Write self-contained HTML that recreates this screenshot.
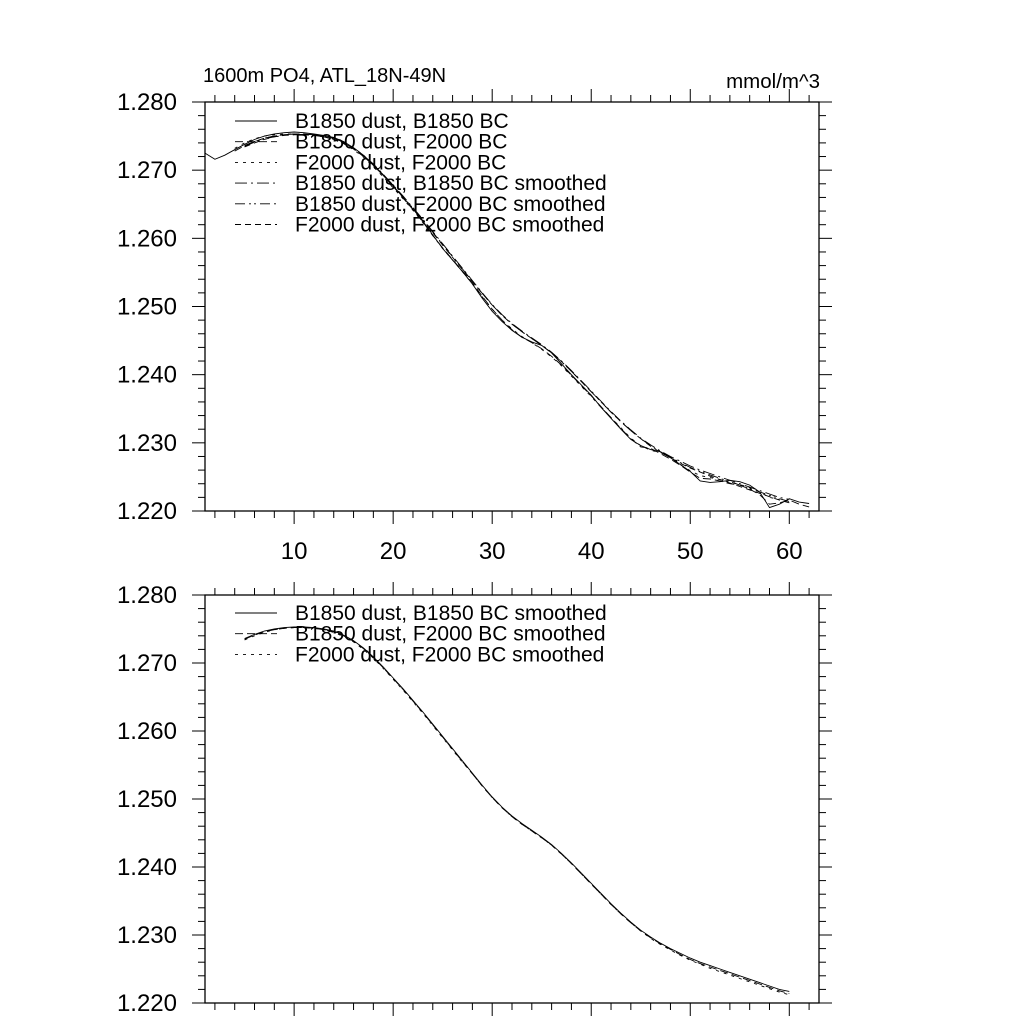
<!DOCTYPE html>
<html><head><meta charset="utf-8"><style>
body{margin:0;background:#fff}
svg{display:block;font-family:"Liberation Sans",sans-serif}
</style></head><body>
<svg id="chart" width="1024" height="1024" viewBox="0 0 1024 1024">
<text x="203" y="82" font-size="20">1600m PO4, ATL_18N-49N</text>
<text x="820" y="88" font-size="20.5" text-anchor="end">mmol/m^3</text>
</svg>
<script>
const xs = [];
for (let i = 1; i <= 62; i++) xs.push(i);
const rawB1850 = [1.2725,1.2716,1.2722,1.2730,1.2738,1.2745,1.2750,1.2753,1.2755,1.2756,1.2755,1.2753,1.2751,1.2748,1.2742,1.2733,1.2722,1.2708,1.2693,1.2677,1.2660,1.2643,1.2625,1.2605,1.2585,1.2568,1.2551,1.2533,1.2512,1.2493,1.2478,1.2465,1.2455,1.2448,1.2443,1.2432,1.2416,1.2400,1.2385,1.2370,1.2352,1.2336,1.2320,1.2305,1.2296,1.2290,1.2287,1.2278,1.2268,1.2258,1.2244,1.2242,1.2243,1.2245,1.2243,1.2238,1.2228,1.2205,1.2210,1.2218,1.2213,1.2211];
const rawB1850F = [null,null,null,1.2728,1.2736,1.2742,1.2747,1.2750,1.2752,1.2753,1.2753,1.2752,1.2750,1.2747,1.2741,1.2732,1.2721,1.2707,1.2692,1.2676,1.2659,1.2642,1.2624,1.2604,1.2586,1.2569,1.2552,1.2535,1.2515,1.2496,1.2480,1.2466,1.2455,1.2447,1.2438,1.2427,1.2414,1.2399,1.2384,1.2369,1.2353,1.2337,1.2321,1.2306,1.2294,1.2292,1.2284,1.2276,1.2267,1.2257,1.2248,1.2247,1.2244,1.2240,1.2238,1.2232,1.2224,1.2210,1.2212,1.2216,1.2210,1.2206];
const rawF2000 = [null,null,null,1.2732,1.2740,1.2746,1.2750,1.2752,1.2753,1.2753,1.2752,1.2751,1.2749,1.2745,1.2739,1.2730,1.2719,1.2705,1.2690,1.2674,1.2658,1.2641,1.2623,1.2604,1.2585,1.2568,1.2551,1.2533,1.2514,1.2496,1.2480,1.2467,1.2456,1.2447,1.2437,1.2426,1.2413,1.2398,1.2383,1.2368,1.2352,1.2337,1.2322,1.2307,1.2296,1.2289,1.2286,1.2278,1.2268,1.2259,1.2252,1.2249,1.2246,1.2242,1.2239,1.2234,1.2228,1.2220,1.2217,null,null,null];
const smB1850 = [null,null,null,null,1.2736,1.2742,1.2747,1.2750,1.2752,1.2753,1.2753,1.2752,1.2750,1.2747,1.2741,1.2733,1.2722,1.2709,1.2694,1.2678,1.2662,1.2645,1.2628,1.2610,1.2592,1.2574,1.2556,1.2538,1.2520,1.2503,1.2488,1.2475,1.2464,1.2454,1.2444,1.2433,1.2420,1.2406,1.2391,1.2376,1.2361,1.2346,1.2332,1.2319,1.2307,1.2297,1.2288,1.2280,1.2273,1.2266,1.2260,1.2255,1.2250,1.2245,1.2240,1.2235,1.2230,1.2225,1.2220,1.2217,null,null];
const smB1850F = [null,null,null,null,1.2735,1.2741,1.2746,1.2749,1.2751,1.2752,1.2752,1.2751,1.2749,1.2746,1.2740,1.2732,1.2721,1.2708,1.2693,1.2677,1.2661,1.2644,1.2627,1.2609,1.2591,1.2573,1.2555,1.2537,1.2519,1.2502,1.2487,1.2474,1.2463,1.2453,1.2443,1.2432,1.2419,1.2405,1.2390,1.2375,1.2360,1.2345,1.2331,1.2318,1.2306,1.2296,1.2287,1.2279,1.2271,1.2264,1.2258,1.2253,1.2248,1.2243,1.2238,1.2233,1.2228,1.2223,1.2218,1.2214,null,null];
const smF2000 = [null,null,null,null,1.2734,1.2740,1.2745,1.2749,1.2751,1.2752,1.2752,1.2751,1.2749,1.2745,1.2739,1.2731,1.2720,1.2707,1.2692,1.2676,1.2660,1.2643,1.2626,1.2608,1.2590,1.2572,1.2554,1.2537,1.2519,1.2502,1.2487,1.2474,1.2463,1.2453,1.2443,1.2432,1.2419,1.2405,1.2390,1.2375,1.2360,1.2345,1.2331,1.2318,1.2306,1.2295,1.2286,1.2278,1.2270,1.2263,1.2257,1.2251,1.2246,1.2241,1.2236,1.2231,1.2226,1.2221,1.2216,1.2212,null,null];
const yTicks = [1.220,1.230,1.240,1.250,1.260,1.270,1.280];
const xTickLabels = [10,20,30,40,50,60];
const topLegend = ["B1850 dust, B1850 BC","B1850 dust, F2000 BC","F2000 dust, F2000 BC","B1850 dust, B1850 BC smoothed","B1850 dust, F2000 BC smoothed","F2000 dust, F2000 BC smoothed"];
const bottomLegend = ["B1850 dust, B1850 BC smoothed","B1850 dust, F2000 BC smoothed","F2000 dust, F2000 BC smoothed"];

const NS = "http://www.w3.org/2000/svg";
const svg = document.getElementById("chart");
function mk(tag, attrs, parent) {
  const e = document.createElementNS(NS, tag);
  for (const k in attrs) e.setAttribute(k, attrs[k]);
  (parent || svg).appendChild(e);
  return e;
}
const X0 = 205, X1 = 819, XMIN = 1, XMAX = 63;
function sx(v) { return X0 + (v - XMIN) / (XMAX - XMIN) * (X1 - X0); }

function panel(top, bottom, name, series, dashes, labels, legend, legTop) {
  const g = mk("g", {});
  
  
  const sy = v => bottom - (v - 1.220) / 0.060 * (bottom - top);
  const frame = mk("rect", {x: X0, y: top, width: X1 - X0, height: bottom - top, fill: "none", stroke: "#000", "stroke-width": 1.3}, g);
  
  
  for (let v = 2; v <= 62; v += 2) {
    const major = v % 10 === 0;
    const L = major ? 13 : 7;
    mk("line", {x1: sx(v), x2: sx(v), y1: bottom, y2: bottom + L, stroke: "#000", "stroke-width": 1}, g);
    mk("line", {x1: sx(v), x2: sx(v), y1: top, y2: top - L, stroke: "#000", "stroke-width": 1}, g);
  }
  for (let i = 0; i <= 30; i++) {
    const v = 1.220 + i * 0.002;
    const major = i % 5 === 0;
    const L = major ? 13 : 7;
    mk("line", {x1: X0, x2: X0 - L, y1: sy(v), y2: sy(v), stroke: "#000", "stroke-width": 1}, g);
    mk("line", {x1: X1, x2: X1 + L, y1: sy(v), y2: sy(v), stroke: "#000", "stroke-width": 1}, g);
  }
  yTicks.forEach(v => {
    const t = mk("text", {x: 177, y: sy(v) + 8, "font-size": 24, "text-anchor": "end"}, g);
    t.textContent = v.toFixed(3);
    
    
  });
  if (labels) {
    xTickLabels.forEach(v => {
      const t = mk("text", {x: sx(v), y: bottom + 48, "font-size": 24, "text-anchor": "middle"}, g);
      t.textContent = v;
      
      
    });
  }
  series.forEach((arr, k) => {
    let d = "";
    let pen = false;
    arr.forEach((v, i) => {
      if (v === null) { pen = false; return; }
      d += (pen ? "L" : "M") + sx(xs[i]).toFixed(1) + "," + sy(v).toFixed(1);
      pen = true;
    });
    const p = mk("path", {d: d, fill: "none", stroke: "#000", "stroke-width": 0.9, "stroke-dasharray": dashes[k]}, g);
    
    
  });
  legend.forEach((txt, i) => {
    const y = legTop + i * 20.7;
    const l = mk("line", {x1: 235, x2: 277, y1: y, y2: y, stroke: "#000", "stroke-width": 0.9, "stroke-dasharray": dashes[i]}, g);
    
    
    const t = mk("text", {x: 295, y: y + 7, "font-size": 21}, g);
    t.textContent = txt;
    
    
  });
}
panel(102, 511, "top-panel", [rawB1850, rawB1850F, rawF2000, smB1850, smB1850F, smF2000],
  ["none", "8,4", "3,5", "12,4,2,4", "10,4,2,3,2,4", "6,4"], true, topLegend, 121);
panel(595, 1003, "bottom-panel", [smB1850, smB1850F, smF2000],
  ["none", "8,4", "3,5"], false, bottomLegend, 613);
</script>
</body></html>
